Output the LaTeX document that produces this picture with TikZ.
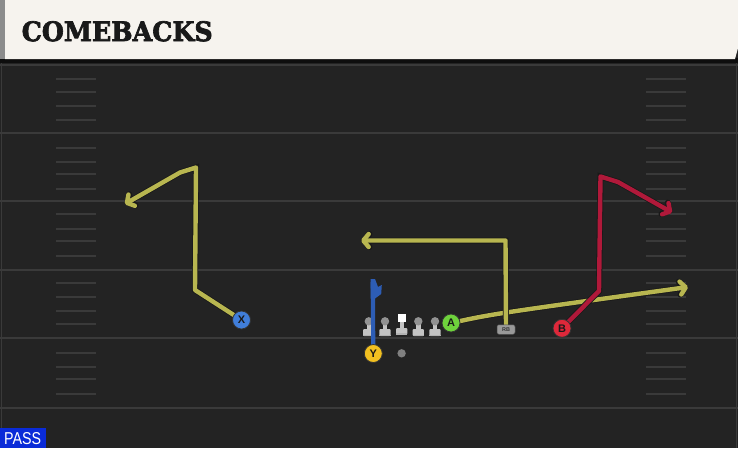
\documentclass[tikz,border=0pt]{standalone}
\usepackage{fontspec}
\setmainfont{Liberation Sans}
\newfontfamily\slabfont[BoldFeatures={FakeBold=2.5}]{DejaVu Serif}
\usetikzlibrary{arrows.meta}
\definecolor{field}{HTML}{232323}
\definecolor{fline}{HTML}{3A3A3A}
\definecolor{cream}{HTML}{F6F3EE}
\definecolor{routey}{HTML}{B8B650}
\definecolor{router}{HTML}{B0193A}
\definecolor{routeb}{HTML}{2D5DB5}
\definecolor{passblue}{HTML}{0A2BD8}
\definecolor{linegray}{HTML}{C4C4C4}
\tikzset{
  yardline/.style={draw=fline, line width=1.6pt},
  hashmark/.style={draw=fline, line width=1.3pt},
  route/.style={line width=4.4pt, line join=round, line cap=round,
     preaction={draw=black!90, line width=6pt}},
  tipped/.style={-{Straight Barb[length=5.5pt,width=13pt,line cap=round,line join=round]}},
  player/.style={circle, draw=black!80, line width=0.8pt, minimum size=18pt, inner sep=0pt,
     font=\bfseries\fontsize{11}{11}\selectfont, text=black!90},
  lineman/.style={fill=linegray},
}
\begin{document}
\begin{tikzpicture}[x=1pt,y=-1pt]
\useasboundingbox (0,0) rectangle (738,448);
% field
\fill[field] (0,0) rectangle (738,448);
\fill[black!60!field] (0,58) rectangle (738,63);
\draw[fline, line width=1.2pt] (1.2,63) -- (1.2,448);
\draw[fline, line width=1pt] (736.8,63) -- (736.8,448);
% yard lines
\foreach \yy in {65,133,201,270,338,408}
  \draw[yardline] (0,\yy) -- (738,\yy);
% hash marks
\foreach \yy in {79,92,106,120,148,162,174,189,214,229,241,256,283,297,311,324,353,367,379,394}{
  \draw[hashmark] (56,\yy) -- (96,\yy);
  \draw[hashmark] (646,\yy) -- (686,\yy);
}
% header
\fill[black!45] (0,0) rectangle (5,59);
\fill[cream] (5,0) -- (738,0) -- (738,48) -- (735,59) -- (5,59) -- cycle;
\node[anchor=south west, inner sep=0pt, text=black!90] (title) at (21.5,41.7)
  {\resizebox{191pt}{20pt}{\slabfont\bfseries COMEBACKS}};
% PASS tag
\fill[passblue] (0,428) rectangle (46,448);
\node[anchor=south west, inner sep=0pt, text=white] (pass) at (4,445)
  {\resizebox{37pt}{12pt}{PASS}};

% waypoints
\coordinate (x1) at (195,290);
\coordinate (x2) at (196,167.5);
\coordinate (x3) at (180,172.5);
\coordinate (xt) at (125,204);
\coordinate (rb1) at (505.5,240.5);
\coordinate (rbt) at (361,240.5);
\coordinate (b1) at (599,291);
\coordinate (b2) at (600.5,176.5);
\coordinate (b3) at (618,182);
\coordinate (bt) at (672,212.5);
\coordinate (at) at (688,287);
\coordinate (yt) at (372.8,282);

% players (positions)
\coordinate (Xc) at (241.5,320);
\coordinate (Yc) at (373.3,353.5);
\coordinate (Ac) at (451,323);
\coordinate (Bc) at (562,328.3);
\coordinate (RBc) at (506,329.5);

% routes
\draw[route, routey, tipped] (Xc) -- (x1) -- (x2) -- (x3) -- (xt);
\draw[route, routey, tipped] (Ac) .. controls (492,314) .. (at);
\draw[route, routey, tipped] (RBc) -- (rb1) -- (rbt);
\draw[route, router, tipped] (Bc) -- (b1) -- (b2) -- (b3) -- (bt);

% offensive line
\foreach \lx in {368.8,385,418.3,435}{
  \fill[lineman] (\lx-2.2,321) rectangle (\lx+2.2,330);
  \fill[lineman, rounded corners=1pt] (\lx-5.6,329) rectangle (\lx+5.6,336);
  \fill[black!30] (\lx-5.6,334.5) rectangle (\lx+5.6,336);
  \fill[linegray!75!black] (\lx,321.3) circle (4.2);
}
\fill[lineman] (399.5,321) rectangle (403.9,328.5);
\fill[lineman, rounded corners=1pt] (396.1,328) rectangle (407.3,334.5);
\fill[black!30] (396.1,333) rectangle (407.3,334.5);
\fill[white] (397.5,314) rectangle (405.9,322.2);

% Y route (on top of the line)
\draw[line width=4.2pt, routeb] (Yc) -- (yt);
\fill[routeb] (370.7,279) -- (375,279) -- (378,287) -- (381.8,285) -- (381.2,294) -- (375,298.5) -- (370.7,298.5) -- cycle;

% QB dot
\fill[black!50] (401.6,353.3) circle (4.2);

% player nodes
\node[player, fill={rgb,255:red,64;green,126;blue,218}] (X) at (Xc) {X};
\node[player, fill={rgb,255:red,242;green,192;blue,32}] (Y) at (Yc) {Y};
\node[player, fill={rgb,255:red,110;green,210;blue,60}] (A) at (Ac) {A};
\node[player, fill={rgb,255:red,222;green,40;blue,58}] (B) at (Bc) {B};
\node[fill=black!40, draw=black!70, line width=0.5pt, rounded corners=2pt, minimum width=18pt, minimum height=9.5pt, inner sep=0pt,
  font=\bfseries\fontsize{5.5}{5.5}\selectfont, text=black!80] (RB) at (RBc) {RB};
\end{tikzpicture}
\end{document}
